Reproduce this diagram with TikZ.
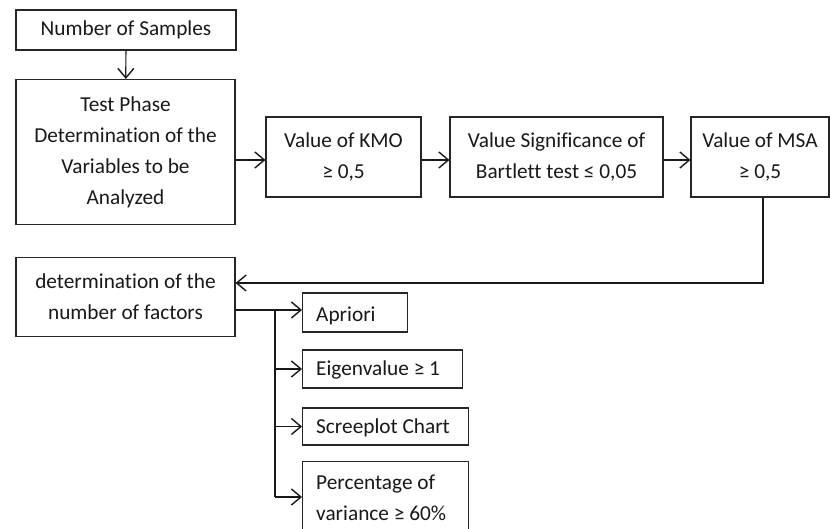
\documentclass[tikz,border=0pt]{standalone}
\usepackage{fontspec}
\setmainfont{Carlito}[Ligatures=NoCommon]
\usetikzlibrary{arrows.meta}
\begin{document}
\begin{tikzpicture}[x=1pt,y=-1pt,
  txt/.style={font=\fontsize{21.3}{31}\selectfont,text=black!90},
  box/.style={draw=black!85,line width=1.1pt,rectangle,inner sep=0pt,align=center,txt},
  ltxt/.style={txt,inner sep=0pt,anchor=west,align=left},
  conn/.style={draw=black!90,line width=1.2pt},
  arr/.style={conn,-{Straight Barb[length=9.5pt,width=16pt,line width=1.4pt]}}]
\clip (0,0) rectangle (830,529);
\fill[white] (0,0) rectangle (830,529);
\node[box,minimum width=220pt,minimum height=40pt] (ns) at (126,30) {Number of Samples};
\node[box,minimum width=219pt,minimum height=145pt] (tp) at (125.5,152) {Test Phase\\Determination of the\\Variables to be\\Analyzed};
\node[box,minimum width=155pt,minimum height=80pt] (kmo) at (343.5,157) {Value of KMO\\≥ 0,5};
\node[box,minimum width=213pt,minimum height=80pt] (bart) at (556.5,157) {Value Significance of\\Bartlett test ≤ 0,05};
\node[box,minimum width=138pt,minimum height=80pt] (msa) at (760,157) {Value of MSA\\≥ 0,5};
\node[box,minimum width=219pt,minimum height=79pt] (det) at (125.5,297) {determination of the\\number of factors};
\node[box,minimum width=105pt,minimum height=39pt,anchor=west] (apr) at (302,312.5) {};
\node[box,minimum width=160pt,minimum height=38pt,anchor=west] (eig) at (302,369) {};
\node[box,minimum width=166pt,minimum height=37pt,anchor=west] (scr) at (302,426.5) {};
\node[box,minimum width=166pt,minimum height=80pt,anchor=north west] (pct) at (302,461) {};
\node[ltxt] (aprt) at (316,316) {Apriori};
\node[ltxt] (eigt) at (316,370) {Eigenvalue ≥ 1};
\node[ltxt] (scrt) at (316,427.5) {Screeplot Chart};
\node[ltxt,anchor=north west] (pctt) at (316,475) {Percentage of\\variance ≥ 60\%};
\draw[arr] (ns) -- (tp);
\draw[arr] (tp.east |- 0,160) -- (kmo.west |- 0,160);
\draw[arr] (kmo.east |- 0,160) -- (bart.west |- 0,160);
\draw[arr] (bart.east |- 0,160) -- (msa.west |- 0,160);
\coordinate (m1) at (763,283);
\draw[arr] (msa.south -| m1) -- (m1) -- (det.east |- m1);
\coordinate (b0) at (235,310);
\coordinate (bx) at (275,310);
\coordinate (bend) at (275,497);
\draw[conn] (b0) -- (bx) -- (bend);
\draw[arr] (bx) -- (apr.west |- bx);
\draw[arr] (bx |- eig) -- (eig);
\draw[arr] (bx |- scr) -- (scr);
\draw[arr] (bend) -- (pct.west |- bend);
\end{tikzpicture}
\end{document}
